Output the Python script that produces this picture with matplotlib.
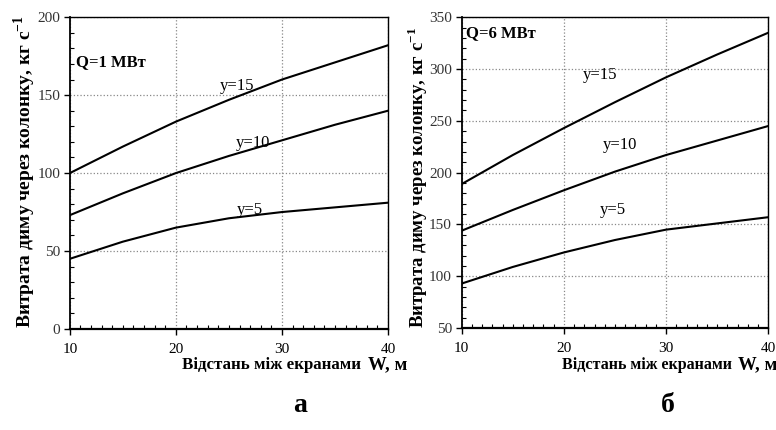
# two panels: smoke flow through the column vs. distance between screens
import matplotlib
matplotlib.use("Agg")
import matplotlib.pyplot as plt
from matplotlib.ticker import MultipleLocator

plt.rcParams['font.family'] = ['Liberation Serif', 'DejaVu Serif']
plt.rcParams['mathtext.fontset'] = 'custom'
plt.rcParams['mathtext.rm'] = 'Liberation Serif'
plt.rcParams['mathtext.bf'] = 'Liberation Serif:bold'

# distance between screens W, m
w = [10, 15, 20, 25, 30, 35, 40]

# Q = 1 MW
q1_y15 = [100, 117, 133, 147, 160, 171, 182]
q1_y10 = [73, 87, 100, 111, 121, 131, 140]
q1_y5 = [45, 56, 65, 71, 75, 78, 81]

# Q = 6 MW
q6_y15 = [189, 217, 243, 268, 292, 314, 335]
q6_y10 = [144, 164, 183, 201, 217, 231, 245]
q6_y5 = [93, 109, 123, 135, 145, 151, 157]

curve_labels = ["y=15", "y=10", "y=5"]
panel_titles = ["Q=1 МВт", "Q=6 МВт"]
panel_letters = ["а", "б"]

fig = plt.figure(figsize=(7.76, 4.30), dpi=100)
ax1 = fig.add_axes([0.090, 0.235, 0.410, 0.725])
ax2 = fig.add_axes([0.595, 0.237, 0.395, 0.723])


def style_axes(ax, ymin, ymax):
    ax.set_xlim(10, 40)
    ax.set_ylim(ymin, ymax)
    ax.xaxis.set_major_locator(MultipleLocator(10))
    ax.xaxis.set_minor_locator(MultipleLocator(1))
    ax.yaxis.set_major_locator(MultipleLocator(50))
    ax.yaxis.set_minor_locator(MultipleLocator(10))
    ax.grid(True, which='major', color='#888888', linestyle=':', linewidth=0.9)
    ax.tick_params(which='major', direction='out', length=4, width=1,
                   labelsize=11, labelcolor='#333333', pad=3)
    ax.tick_params(which='minor', direction='in', length=3, width=0.8)
    ax.tick_params(axis='x', which='major', pad=6, labelcolor='black')
    for s in ax.spines.values():
        s.set_linewidth(1.0)
    ax.spines['bottom'].set_linewidth(1.6)
    ax.spines['left'].set_linewidth(1.3)


# left panel
style_axes(ax1, 0, 200)
ax1.plot(w, q1_y15, color='black', lw=1.5)
ax1.plot(w, q1_y10, color='black', lw=1.5)
ax1.plot(w, q1_y5, color='black', lw=1.5)
ax1.text(25.8, 156, curve_labels[0], fontsize=12, ha='center', va='center')
ax1.text(27.3, 119, curve_labels[1], fontsize=12, ha='center', va='center')
ax1.text(27.0, 76, curve_labels[2], fontsize=12, ha='center', va='center')
ax1.text(10.6, 171, panel_titles[0], fontsize=12, fontweight='bold', va='center')

# right panel
style_axes(ax2, 50, 350)
ax2.plot(w, q6_y15, color='black', lw=1.5)
ax2.plot(w, q6_y10, color='black', lw=1.5)
ax2.plot(w, q6_y5, color='black', lw=1.5)
ax2.text(23.5, 294, curve_labels[0], fontsize=12, ha='center', va='center')
ax2.text(25.5, 227, curve_labels[1], fontsize=12, ha='center', va='center')
ax2.text(24.8, 164, curve_labels[2], fontsize=12, ha='center', va='center')
ax2.text(10.4, 335, panel_titles[1], fontsize=12, fontweight='bold', va='center')

# axis labels
ylab = "Витрата диму через колонку, кг с$^{\\mathbf{-1}}$"
fig.text(25 / 776, 1 - 172 / 430, ylab, rotation=90, fontsize=14, fontweight='bold',
         ha='center', va='center')
fig.text(418 / 776, 1 - 178 / 430, ylab, rotation=90, fontsize=13.5, fontweight='bold',
         ha='center', va='center')

for x0, x1, fs in [(182, 368, 12.2), (562, 738, 11.5)]:
    fig.text(x0 / 776, 1 - 365 / 430, "Відстань між екранами", fontsize=fs,
             fontweight='bold', ha='left', va='center')
    fig.text(x1 / 776, 1 - 365 / 430, "W, м", fontsize=13.5,
             fontweight='bold', ha='left', va='center')

fig.text(300 / 776, 1 - 405 / 430, panel_letters[0], fontsize=20,
         fontweight='bold', ha='center', va='center')
fig.text(668 / 776, 1 - 405 / 430, panel_letters[1], fontsize=20,
         fontweight='bold', ha='center', va='center')

fig.savefig("out.png", dpi=100)
